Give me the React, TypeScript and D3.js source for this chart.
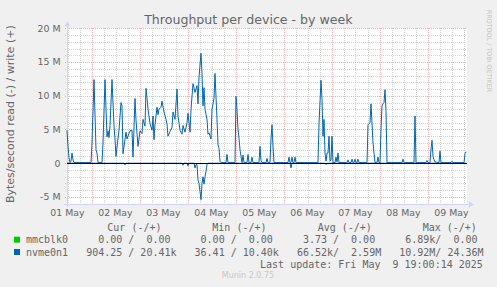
import React from "react";
import * as d3 from "d3";

// ---- data (hours since START, MB/s) ----
const START = new Date(2025, 4, 1, 11, 45);
const END = new Date(2025, 4, 9, 19, 45);

const yTicks = [-5, 0, 5, 10, 15, 20];
const yTickLabels = ["-5 M", "0", "5 M", "10 M", "15 M", "20 M"];

const nvmeWrite: [number, number][] = [
  [0, 4.9], [0.5, 2.5], [1, 0.8], [1.5, 0.1], [2, 0.3], [2.5, 1.5], [3, 0.5], [3.5, 0.1], [12, 0.1],
  [12.5, 3], [13.5, 12.4], [14.5, 2.0], [15, 1.5], [15.5, 0.1], [17.5, 0.1], [18, 3], [19, 12.4],
  [20, 3.9], [20.5, 4.8], [21, 3.8], [21.5, 5.6], [22.5, 12.4], [23.5, 5.5], [24, 3.6], [24.5, 1.0],
  [25, 2.4], [26, 4.9], [27, 9.0], [27.5, 8.5], [28, 1.4], [29.5, 4.6], [30, 3.6], [31.5, 4.8],
  [32.5, 4.9], [33, 0.9], [34, 9.6], [34.5, 6.4], [35.5, 2.5], [36.5, 4.8], [37.5, 4.4], [38, 6.5],
  [39, 5.5], [39.5, 11.1], [40, 9.6], [40.5, 8.0], [41.5, 5.9], [42.5, 4.9], [43, 7.0], [43.5, 3.5],
  [44, 5.7], [45, 8.3], [45.5, 7.2], [46, 8.0], [47, 8.3], [47.5, 9.2], [48.5, 7.6], [49.5, 6.5],
  [50, 5.8], [50.5, 4.0], [51.5, 4.7], [52.5, 5.3], [53, 7.6], [54, 6.5], [55, 11.0], [55.5, 7.0],
  [56.5, 4.9], [57.5, 4.3], [58, 5.6], [59, 4.6], [60, 6.0], [60.5, 7.4], [61.5, 4.6], [62, 8.0],
  [63, 11.8], [64, 10.5], [65, 11.5], [65.5, 8.8], [66, 12.8], [67, 16.3], [67.5, 13.3], [68, 8.5],
  [68.5, 11.2], [69, 8.0], [70, 6.5], [70.5, 4.3], [71, 4.5], [72, 3.6], [72.5, 8.0], [73.5, 9.6],
  [74, 13.3], [75, 6.5], [75.5, 2.7], [76, 2.2], [76.5, 0.3], [77, 0.1], [79.5, 0.1], [80, 1.3],
  [80.5, 0.1], [84, 0.1], [84.5, 9.9], [85, 8.0], [85.5, 5.0], [86, 3.7], [86.5, 2.0], [87, 1.0],
  [87.5, 0.1], [88, 1.2], [88.5, 0.1], [90, 0.1], [90.5, 1.3], [91, 0.1], [92, 0.1], [92.5, 0.9],
  [93, 0.1], [96, 0.1], [96.5, 2.5], [97, 0.4], [97.5, 0.1], [99.5, 0.1], [100, 0.7], [100.5, 0.1],
  [101.5, 0.1], [102, 3.6], [102.5, 5.7], [103, 2.5], [103.5, 0.1], [110.5, 0.1], [111, 0.9],
  [111.5, 0.1], [112, 0.1], [112.5, 0.9], [113, 0.1], [113.5, 0.1], [114, 0.9], [114.5, 0.1],
  [125.5, 0.1], [126, 5.9], [127, 12.3], [127.5, 9.5], [128, 4.0], [128.5, 6.5], [129, 1.5],
  [129.5, 0.3], [130, 1.5], [130.5, 1.5], [131, 4.0], [131.5, 0.3], [132, 0.5], [132.5, 4.0],
  [133, 0.1], [134, 0.1], [134.5, 0.9], [135, 0.2], [135.5, 1.5], [136, 0.1], [140, 0.1], [140.5, 0.5],
  [141, 0.1], [142, 0.1], [142.5, 0.6], [143, 0.1], [143.5, 0.1], [144, 0.6], [144.5, 0.1], [145, 0.1],
  [145.5, 0.6], [146, 0.1], [150, 0.1], [150.5, 5.7], [151.5, 6.0], [152, 8.8], [152.5, 6.0],
  [153, 3.0], [153.5, 1.5], [154, 0.1], [155, 0.1], [155.5, 0.9], [156, 0.1], [156.5, 0.1],
  [157, 5.1], [157.5, 8.5], [158, 8.8], [158.5, 9.0], [159, 10.9], [159.5, 7.7], [160, 0.1],
  [167.5, 0.1], [168, 0.6], [168.5, 0.1], [173.5, 0.1], [174, 7.0], [174.5, 0.1], [179.5, 0.1],
  [180, 0.4], [180.5, 0.1], [181.5, 0.1], [182, 2.1], [182.5, 3.4], [183, 1.0], [183.5, 0.5],
  [184, 0.2], [185.5, 0.1], [186, 0.1], [186.5, 1.8], [187, 0.1], [192, 0.1], [192.5, 0.3],
  [193, 0.1], [198.5, 0.1], [199, 1.4], [199.5, 1.7],
];

const nvmeRead: [number, number][] = [
  [0, 0], [28.5, 0], [29, 0.25], [29.5, 0], [57.5, 0], [58, 0.3], [58.5, 0], [60, 0], [60.5, 0.4],
  [61, 0], [63.5, 0], [64, 0.7], [64.5, 0.2], [65, 0.2], [65.5, 2.5], [66, 3.0], [66.5, 4.2],
  [67, 5.4], [67.5, 3.0], [68, 2.0], [68.5, 3.1], [69, 2.0], [69.5, 1.2], [70, 0.2], [70.5, 0],
  [111.5, 0], [112, 0.7], [112.5, 0], [129, 0], [129.5, 0.2], [130, 0], [199.5, 0],
];

const mmcblk0: [number, number][] = [[0, 0], [199.5, 0]];

const legendHeaders = ["Cur (-/+)", "Min (-/+)", "Avg (-/+)", "Max (-/+)"];
const legendNames = ["mmcblk0", "nvme0n1"];
const legendColors = ["#00CC00", "#0066B3"];
const legendValues = [
  ["  0.00 /  0.00 ", "  0.00 /  0.00 ", "  3.73 /  0.00 ", "  6.89k/  0.00 "],
  ["904.25 / 20.41k", " 36.41 / 10.40k", " 66.52k/  2.59M", " 10.92M/ 24.36M"],
];
const lastUpdate = "Last update: Fri May  9 19:00:14 2025";

export default function App() {
  const W = 497, H = 287;
  const L = 67, R = 467, T = 28.3, B = 203.7;
  const x = d3.scaleTime().domain([START, END]).range([L, R]);
  const y = d3.scaleLinear().domain([-6, 20]).range([B, T]);
  const hd = (h: number) => new Date(START.getTime() + h * 3600000);

  const line = d3.line<[number, number]>().x((d) => x(hd(d[0]))).y((d) => y(d[1]));
  const lineNeg = d3.line<[number, number]>().x((d) => x(hd(d[0]))).y((d) => y(-d[1]));

  const minorY = d3.range(-6, 21, 1).filter((v) => v % 5 !== 0);
  const majorDays = d3.timeDay.range(START, END);
  const minorHours = d3.timeHour.every(6)!.range(START, END).filter((d) => d.getHours() !== 0);
  const labelDays = d3.timeDay
    .range(d3.timeDay.floor(START), END)
    .map((d) => d3.timeHour.offset(d, 12))
    .filter((d) => d >= START && d <= END);
  const fmt = d3.timeFormat("%d %b");

  const sans = "'DejaVu Sans', sans-serif";
  const mono = "'DejaVu Sans Mono', monospace";
  const fc = "#666666";
  const cw = 6.02;
  const legX = 26;
  const fieldCols = [10, 27, 44, 61];
  const headerX = [107.3, 212.3, 317.7, 422.7];
  const rowY = [243.3, 255.6];
  const pre = { whiteSpace: "pre" as const };

  const px = (v: number) => Math.round(v) + 0.5;
  const zeroY = Math.floor(y(0)) + 0.5;

  return (
    <svg width={W} height={H} style={{ position: "absolute", left: 0, top: 0 }}>
      <rect x={0} y={0} width={W} height={H} fill="#F0F0F0" />
      <rect x={L} y={T} width={R - L} height={B - T} fill="#FFFFFF" />

      {/* minor grid */}
      <g stroke="#d2d2d2" strokeWidth={1} strokeDasharray="1,1" shapeRendering="crispEdges">
        {minorY.map((v) => (
          <line key={"hy" + v} x1={L - 2} x2={R} y1={px(y(v))} y2={px(y(v))} />
        ))}
        {minorHours.map((d, i) => (
          <line key={"vx" + i} x1={px(x(d))} x2={px(x(d))} y1={T} y2={B + 2} />
        ))}
      </g>
      {/* major grid */}
      <g stroke="#eeb0b0" strokeWidth={1} strokeDasharray="1,1" shapeRendering="crispEdges">
        {yTicks.map((v) => (
          <line key={"my" + v} x1={L - 2} x2={R} y1={px(y(v))} y2={px(y(v))} />
        ))}
        {majorDays.map((d, i) => (
          <line key={"mx" + i} x1={px(x(d))} x2={px(x(d))} y1={T} y2={B + 2} />
        ))}
      </g>

      {/* axes */}
      <g stroke="#CFD6F8" strokeWidth={1} shapeRendering="crispEdges">
        <line x1={L - 3} x2={R + 3} y1={px(B)} y2={px(B)} />
        <line x1={px(L)} x2={px(L)} y1={B + 3} y2={T - 4} />
      </g>
      <path d={`M${R + 2},${px(B) - 3} L${R + 7},${px(B)} L${R + 2},${px(B) + 3} Z`} fill="#CFD6F8" />
      <path d={`M${px(L) - 3},${T - 2} L${px(L)},${T - 7} L${px(L) + 3},${T - 2} Z`} fill="#CFD6F8" />

      {/* series */}
      <path d={line(mmcblk0) || ""} fill="none" stroke="#00CC00" strokeWidth={1} transform={`translate(0,${zeroY - y(0)})`} />
      <path d={lineNeg(nvmeRead) || ""} fill="none" stroke="#0066B3" strokeWidth={1} />
      <path d={line(nvmeWrite) || ""} fill="none" stroke="#0066B3" strokeWidth={1} />
      <line x1={L} x2={R} y1={zeroY} y2={zeroY} stroke="#000000" strokeWidth={1} shapeRendering="crispEdges" />

      {/* y tick labels */}
      <g fill={fc} fontFamily={sans} fontSize={9.4} textAnchor="end">
        {yTicks.map((v, i) => (
          <text key={"yl" + v} x={60.5} y={y(v) + 3.4}>{yTickLabels[i]}</text>
        ))}
      </g>
      {/* x labels */}
      <g fill={fc} fontFamily={sans} fontSize={9.4} textAnchor="middle">
        {labelDays.map((d, i) => (
          <text key={"xl" + i} x={x(d)} y={215.8}>{fmt(d)}</text>
        ))}
      </g>

      {/* title */}
      <text x={248.4} y={24} fill={fc} fontFamily={sans} fontSize={12.6} textAnchor="middle">
        Throughput per device - by week
      </text>
      {/* y axis label */}
      <text
        transform={`translate(14.3,114.2) rotate(-90)`}
        fill={fc}
        fontFamily={sans}
        fontSize={11}
        textAnchor="middle"
      >
        Bytes/second read (-) / write (+)
      </text>
      {/* watermark */}
      <text
        transform={`translate(486.5,51) rotate(90)`}
        fill="#c4c4c4"
        fontFamily={sans}
        fontSize={6.4}
        textAnchor="middle"
      >
        RRDTOOL / TOBI OETIKER
      </text>

      {/* legend */}
      <g fill={fc} fontFamily={mono} fontSize={10}>
        {legendHeaders.map((h, i) => (
          <text key={"lh" + i} x={headerX[i]} y={231} xmlSpace="preserve" style={pre}>{h}</text>
        ))}
        {legendNames.map((n, r) => (
          <g key={"lr" + r}>
            <rect x={14} y={rowY[r] - 6.6} width={6} height={6} fill={legendColors[r]} />
            <text x={legX} y={rowY[r]} xmlSpace="preserve" style={pre}>{n}</text>
            {legendValues[r].map((v, c) => (
              <text key={"lv" + c} x={legX + fieldCols[c] * cw} y={rowY[r]} xmlSpace="preserve" style={pre}>{v}</text>
            ))}
          </g>
        ))}
        <text x={482.8} y={268} textAnchor="end" xmlSpace="preserve" style={pre}>{lastUpdate}</text>
      </g>
      <text x={248} y={278} fill="#c8c8c8" fontFamily={sans} fontSize={8} textAnchor="middle">
        Munin 2.0.75
      </text>
    </svg>
  );
}
